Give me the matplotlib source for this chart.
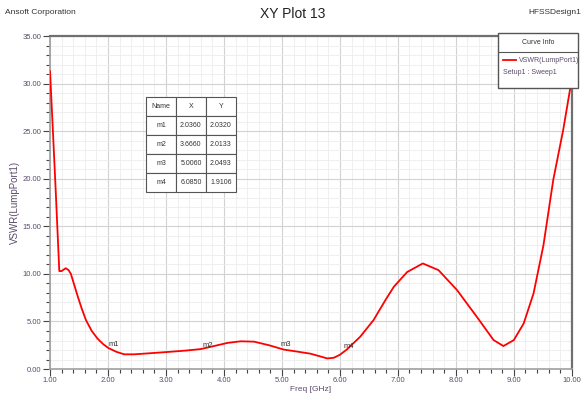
import matplotlib.pyplot as plt
import numpy as np
from matplotlib.ticker import MultipleLocator, FormatStrFormatter
from matplotlib.lines import Line2D
from matplotlib.patches import Rectangle

plt.rcParams.update({'font.family': ['Liberation Sans', 'DejaVu Sans'],
                     'font.size': 6})

# VSWR curve
freq = [1.00, 1.05, 1.10, 1.16, 1.20, 1.27, 1.32, 1.36, 1.42, 1.48, 1.55, 1.62,
        1.72, 1.82, 1.92, 2.01, 2.15, 2.28, 2.45, 2.62, 2.85, 3.08, 3.35, 3.60,
        3.85, 4.06, 4.29, 4.52, 4.78, 5.03, 5.25, 5.49, 5.65, 5.78, 5.89, 6.00,
        6.12, 6.35, 6.58, 6.78, 6.93, 7.16, 7.43, 7.70, 8.02, 8.36, 8.65, 8.82,
        9.00, 9.17, 9.34, 9.51, 9.68, 9.85, 10.00]
vswr = [31.3, 25.0, 18.5, 10.3, 10.3, 10.6, 10.4, 10.0, 8.8, 7.6, 6.3, 5.15,
        4.0, 3.2, 2.6, 2.2, 1.8, 1.55, 1.55, 1.62, 1.72, 1.82, 1.95, 2.1,
        2.45, 2.75, 2.92, 2.88, 2.5, 2.05, 1.85, 1.62, 1.35, 1.12, 1.18, 1.5,
        2.06, 3.4, 5.15, 7.2, 8.65, 10.2, 11.1, 10.4, 8.3, 5.5, 3.05, 2.42,
        3.05, 4.8, 7.96, 13.0, 19.9, 25.1, 30.5]

marker_names = ['m1', 'm2', 'm3', 'm4']
marker_x = [2.0360, 3.6660, 5.0060, 6.0850]
marker_y = [2.0320, 2.0133, 2.0493, 1.9106]

txtcol = '#5b4b6b'
fig = plt.figure(figsize=(5.85, 3.96), dpi=100)
ax = fig.add_axes([0.0855, 0.068, 0.892, 0.841])

ax.plot(freq, vswr, color='#ff0000', lw=1.3, zorder=3)
for n, x, y in zip(marker_names, marker_x, marker_y):
    ax.text(x - 0.03, y + 0.35, n, fontsize=5.5, color='#333333', zorder=4)

ax.set_xlim(1, 10)
ax.set_ylim(0, 35)
ax.xaxis.set_major_locator(MultipleLocator(1))
ax.xaxis.set_minor_locator(MultipleLocator(0.2))
ax.yaxis.set_major_locator(MultipleLocator(5))
ax.yaxis.set_minor_locator(MultipleLocator(1))
ax.xaxis.set_major_formatter(FormatStrFormatter('%.2f'))
ax.yaxis.set_major_formatter(FormatStrFormatter('%.2f'))
ax.grid(which='major', color='#d2d2d2', lw=0.8)
ax.grid(which='minor', color='#ededed', lw=0.6)
ax.set_axisbelow(True)
ax.tick_params(which='both', colors='#444444', labelcolor=txtcol, labelsize=5.5, pad=1)
ax.tick_params(which='major', length=5, width=0.8)
ax.tick_params(which='minor', length=3, width=0.8)
for s in ['left', 'bottom']:
    ax.spines[s].set_color('#a0a0a0')
    ax.spines[s].set_linewidth(1.2)
for s in ['top', 'right']:
    ax.spines[s].set_color('#707070')
    ax.spines[s].set_linewidth(1.6)
ax.set_xlabel('Freq [GHz]', color=txtcol, fontsize=6, labelpad=1)
ax.set_ylabel('VSWR(LumpPort1)', color=txtcol, fontsize=7, labelpad=2)

# marker table
rows = [[n, '%.4f' % x, '%.4f' % y] for n, x, y in zip(marker_names, marker_x, marker_y)]
tab = ax.table(cellText=rows, colLabels=['Name', 'X', 'Y'], cellLoc='center',
               bbox=[0.184, 0.532, 0.172, 0.285], zorder=5)
tab.auto_set_font_size(False)
tab.set_fontsize(5)
for cell in tab.get_celld().values():
    cell.set_edgecolor('#555555')
    cell.set_linewidth(0.8)
    cell.set_facecolor('white')
    cell.get_text().set_color('#333333')

# curve info box
fig.patches.append(Rectangle((498/585, 1 - 88/396), 80/585, 55/396, transform=fig.transFigure,
                             facecolor='white', edgecolor='#555555', lw=1.0, zorder=10))
fig.lines.append(Line2D([498/585, 578/585], [1 - 52/396, 1 - 52/396], transform=fig.transFigure,
                        color='#555555', lw=0.8, zorder=11))
fig.lines.append(Line2D([503/585, 516/585], [1 - 60/396, 1 - 60/396], transform=fig.transFigure,
                        color='#ff0000', lw=1.3, zorder=11))
fig.text(538/585, 1 - 42/396, 'Curve Info', ha='center', va='center', fontsize=5, color='#333333', zorder=12)
fig.text(519/585, 1 - 60/396, 'VSWR(LumpPort1)', ha='left', va='center', fontsize=5, color=txtcol, zorder=12)
fig.text(503/585, 1 - 73/396, 'Setup1 : Sweep1', ha='left', va='center', fontsize=5, color=txtcol, zorder=12)

fig.text(0.5, 1 - 14/396, 'XY Plot 13', ha='center', va='center', fontsize=10, color='#222222')
fig.text(5/585, 1 - 13/396, 'Ansoft Corporation', ha='left', va='center', fontsize=6, color='#333333')
fig.text(581/585, 1 - 13/396, 'HFSSDesign1', ha='right', va='center', fontsize=6, color='#333333')

fig.savefig('out.png', dpi=100)
